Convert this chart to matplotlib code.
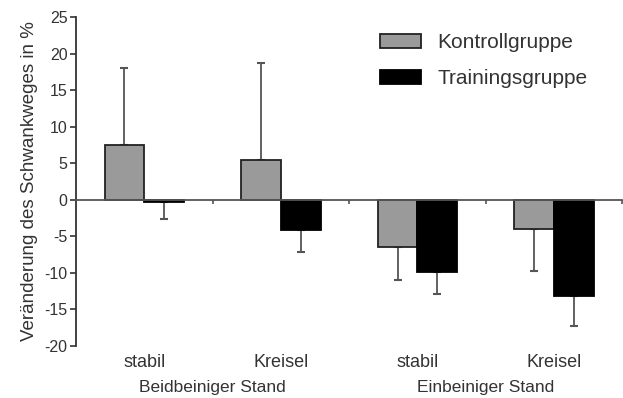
import matplotlib.pyplot as plt
import matplotlib.transforms as mtransforms
import numpy as np

plt.rcParams['font.family'] = ['Liberation Sans', 'DejaVu Sans']
plt.rcParams['axes.unicode_minus'] = False

conditions = ['stabil', 'Kreisel', 'stabil', 'Kreisel']
stances = ['Beidbeiniger Stand', 'Einbeiniger Stand']
kontroll = [7.5, 5.5, -6.4, -4.0]
kontroll_err = [10.5, 13.2, 4.6, 5.7]
training = [-0.3, -4.2, -9.9, -13.2]
training_err = [2.3, 2.9, 3.0, 4.0]

x = np.arange(len(conditions))
w = 0.29

fig = plt.figure(figsize=(6.23, 3.98), dpi=100)
ax = fig.add_axes([0.122, 0.1307, 0.877, 0.8266])


def one_sided(vals, errs):
    lo = [e if v < 0 else 0 for v, e in zip(vals, errs)]
    hi = [e if v >= 0 else 0 for v, e in zip(vals, errs)]
    return [lo, hi]


ax.bar(x - w / 2, kontroll, w, color='#9a9a9a', edgecolor='#222222',
       linewidth=1.3, label='Kontrollgruppe', zorder=2)
ax.bar(x + w / 2, training, w, color='black', edgecolor='black',
       linewidth=1.3, label='Trainingsgruppe', zorder=2)
ax.errorbar(x - w / 2, kontroll, yerr=one_sided(kontroll, kontroll_err),
            fmt='none', ecolor='#555555', elinewidth=1.3, capsize=3,
            capthick=1.5, zorder=1)
ax.errorbar(x + w / 2, training, yerr=one_sided(training, training_err),
            fmt='none', ecolor='#555555', elinewidth=1.3, capsize=3,
            capthick=1.5, zorder=1)

ax.set_xlim(-0.5, 3.5)
ax.set_ylim(-20, 25)
ax.set_yticks(range(-20, 26, 5))
ax.tick_params(axis='y', labelsize=11.5, length=4, width=1.2, colors='#333333',
               pad=2)

ax.spines['top'].set_visible(False)
ax.spines['right'].set_visible(False)
ax.spines['bottom'].set_position(('data', 0))
ax.spines['left'].set_linewidth(1.3)
ax.spines['bottom'].set_linewidth(1.3)
ax.spines['left'].set_color('#333333')
ax.spines['bottom'].set_color('#555555')
ax.set_xticks([0.5, 1.5, 2.5, 3.5])
ax.set_xticklabels([])
ax.tick_params(axis='x', length=3, width=1.2, colors='#555555')

ax.set_ylabel('Veränderung des Schwankweges in %', fontsize=13.5,
              color='#333333', labelpad=5)

trans = mtransforms.blended_transform_factory(ax.transData, ax.transAxes)
for xi, c in zip(x, conditions):
    ax.text(xi, -0.05, c, transform=trans, ha='center', va='center',
            fontsize=13, color='#333333')
for gi, s in enumerate(stances):
    ax.text(0.5 + 2 * gi, -0.126, s, transform=trans, ha='center',
            va='center', fontsize=12.5, color='#333333')

ax.legend(loc='upper left', bbox_to_anchor=(0.556, 0.95), frameon=False,
          borderpad=0, borderaxespad=0, fontsize=15, handlelength=2.0,
          handleheight=0.65, labelspacing=0.8, handletextpad=0.75,
          labelcolor='#333333')

fig.savefig('out.png', dpi=100)
